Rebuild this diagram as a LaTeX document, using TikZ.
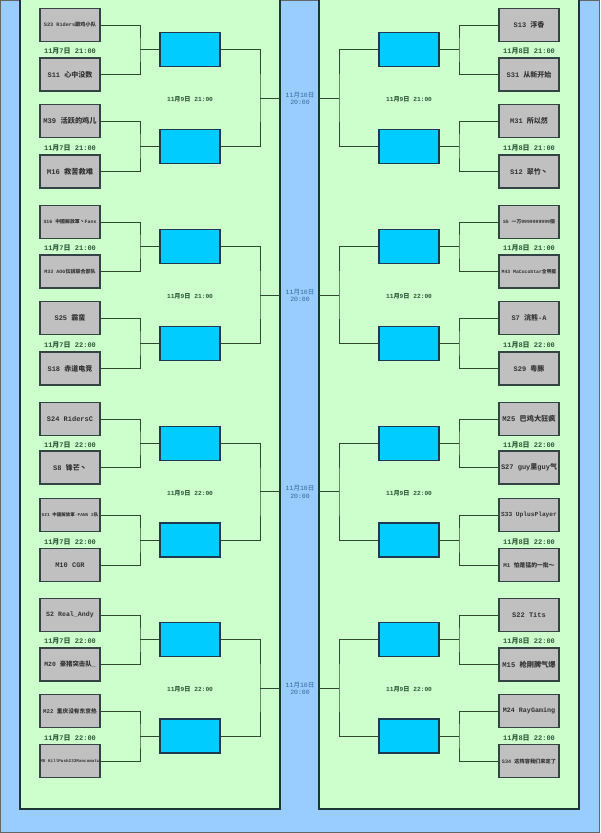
\documentclass[tikz,border=0pt]{standalone}
\usepackage{fontspec}
\setmainfont{Liberation Mono}
\newfontfamily\cjk{Noto Sans CJK SC}
\newcommand\zh[1]{{\cjk #1}}
\newcommand\fs[1]{\fontsize{#1}{#1}\selectfont}
\definecolor{bgblue}{HTML}{99CCFF}
\definecolor{panelgreen}{HTML}{CCFFCC}
\definecolor{panelline}{HTML}{1F3535}
\definecolor{teamgray}{HTML}{C0C0C0}
\definecolor{boxline}{HTML}{344444}
\definecolor{cyanbox}{HTML}{00CCFF}
\definecolor{winline}{HTML}{1F3A50}
\definecolor{wirecol}{HTML}{2E4A2E}
\definecolor{dategreen}{HTML}{2F5A3A}
\definecolor{textdark}{HTML}{333333}
\definecolor{finalblue}{HTML}{336699}
\tikzset{
  team/.style={draw=boxline, fill=teamgray, line width=1.2pt, minimum width=60pt,
    minimum height=33pt, inner sep=0pt, text=textdark, font=\bfseries\fs{7}},
  winbox/.style={draw=winline, fill=cyanbox, line width=1.2pt, minimum width=60pt,
    minimum height=34pt, inner sep=0pt},
  datelbl/.style={inner sep=0pt, text=dategreen, font=\bfseries\fs{7}},
  midlbl/.style={inner sep=0pt, text=dategreen, font=\bfseries\fs{6.2}},
  finallbl/.style={inner sep=0pt, text=finalblue, font=\fs{6.5}, align=center},
  wire/.style={draw=wirecol, line width=1pt},
  panel/.style={draw=panelline, fill=panelgreen, line width=1.5pt}
}
% left pair: id, yA, yB, nameA, nameB, date
\newcommand\lpair[6]{%
  \node[team] (LA#1) at (70,#2) {#4};
  \node[team] (LB#1) at (70,#3) {#5};
  \node[datelbl] (LD#1) at (70,{(#2+#3)/2+1.5}) {#6};
  \node[winbox] (LW#1) at (190,{(#2+#3)/2}) {};
  \coordinate (LJ#1) at (140,{(#2+#3)/2});
  \draw[wire] (LA#1.east) -| (LJ#1) |- (LB#1.east);
  \draw[wire] (LJ#1) -- (LW#1.west);
}
\newcommand\rpair[6]{%
  \node[team] (RA#1) at (529,#2) {#4};
  \node[team] (RB#1) at (529,#3) {#5};
  \node[datelbl] (RD#1) at (529,{(#2+#3)/2+1.5}) {#6};
  \node[winbox] (RW#1) at (409,{(#2+#3)/2}) {};
  \coordinate (RJ#1) at (459,{(#2+#3)/2});
  \draw[wire] (RA#1.west) -| (RJ#1) |- (RB#1.west);
  \draw[wire] (RJ#1) -- (RW#1.east);
}
% quad: id, pair top, pair bottom, y, label
\newcommand\lquad[5]{%
  \coordinate (LK#1) at (260,#4);
  \coordinate (LE#1) at (280,#4);
  \node[midlbl] (LM#1) at (190,#4+1.5) {#5};
  \draw[wire] (LW#2.east) -| (LK#1) |- (LW#3.east);
  \draw[wire] (LK#1) -- (LE#1);
}
\newcommand\rquad[5]{%
  \coordinate (RK#1) at (339,#4);
  \coordinate (RE#1) at (319,#4);
  \node[midlbl] (RM#1) at (409,#4+1.5) {#5};
  \draw[wire] (RW#2.west) -| (RK#1) |- (RW#3.west);
  \draw[wire] (RK#1) -- (RE#1);
  \node[finallbl] (F#1) at (300,#4+0.5) {11\zh{月}10\zh{日}\\[1pt]20:00};
}
\begin{document}
\begin{tikzpicture}[x=1pt,y=-1pt]
\useasboundingbox (0,0) rectangle (600,833);
\fill[bgblue] (0,0) rectangle (600,833);
\draw[draw=gray!80!black, line width=1pt] (0.5,0.5) rectangle (599.5,832.5);
\draw[panel] (20,-3) rectangle (280,809);
\draw[panel] (319,-3) rectangle (579,809);

% ---------- left half ----------
\lpair{1}{25}{74.5}{\fs{5.2}S23 Riders\zh{跟鸡小队}}{S11 \zh{心中没数}}{11\zh{月}7\zh{日} 21:00}
\lpair{2}{121}{171.5}{\fs{7.2}M39 \zh{活跃的鸡儿}}{\fs{7.2}M16 \zh{救苦救难}}{11\zh{月}7\zh{日} 21:00}
\lpair{3}{222}{271.5}{\fs{4.9}S16 \zh{中國解放軍丶}Fans}{\fs{5}M33 AOG\zh{伝説联合部队}}{11\zh{月}7\zh{日} 21:00}
\lpair{4}{318}{368.5}{S25 \zh{霸蛮}}{S18 \zh{赤道电竞}}{11\zh{月}7\zh{日} 22:00}
\lpair{5}{419}{467.5}{S24 RidersC}{S8 \zh{锋芒丶}}{11\zh{月}7\zh{日} 22:00}
\lpair{6}{515}{565}{\fs{4.5}S21 \zh{中國解放軍}·FANS 2\zh{队}}{M10 CGR}{11\zh{月}7\zh{日} 22:00}
\lpair{7}{615}{664.5}{\fs{6.6}S2 Real\_Andy}{\fs{6.4}M20 \zh{豪猪突击队}\_}{11\zh{月}7\zh{日} 22:00}
\lpair{8}{711}{761}{\fs{5.7}M22 \zh{重庆没有东京热}}{\fs{4.3}M8 KillPush233Mancumatu}{11\zh{月}7\zh{日} 22:00}
\lquad{1}{1}{2}{98}{11\zh{月}9\zh{日} 21:00}
\lquad{2}{3}{4}{295}{11\zh{月}9\zh{日} 21:00}
\lquad{3}{5}{6}{491.5}{11\zh{月}9\zh{日} 22:00}
\lquad{4}{7}{8}{688}{11\zh{月}9\zh{日} 22:00}

% ---------- right half ----------
\rpair{1}{25}{74.5}{S13 \zh{浮香}}{S31 \zh{从新开始}}{11\zh{月}8\zh{日} 21:00}
\rpair{2}{121}{171.5}{M31 \zh{所以然}}{S12 \zh{翠竹丶}}{11\zh{月}8\zh{日} 21:00}
\rpair{3}{222}{271.5}{\fs{4.8}S5 \zh{一万}9999999999\zh{個}}{\fs{4.8}M43 MaCocoStar\zh{全明星}}{11\zh{月}8\zh{日} 21:00}
\rpair{4}{318}{368.5}{S7 \zh{浣熊}-A}{S29 \zh{粤豚}}{11\zh{月}8\zh{日} 22:00}
\rpair{5}{419}{467.5}{\fs{7.2}M25 \zh{巴鸡大狂疯}}{S27 guy\zh{里}guy\zh{气}}{11\zh{月}8\zh{日} 22:00}
\rpair{6}{515}{565}{\fs{6.2}S33 UplusPlayer}{\fs{5.8}M1 \zh{怕是猛的一批～}}{11\zh{月}8\zh{日} 22:00}
\rpair{7}{615}{664.5}{S22 Tits}{\fs{7.2}M15 \zh{枪刚脾气爆}}{11\zh{月}8\zh{日} 22:00}
\rpair{8}{711}{761}{\fs{6.7}M24 RayGaming}{\fs{5.2}S34 \zh{这阵容我们来定了}}{11\zh{月}8\zh{日} 22:00}
\rquad{1}{1}{2}{98}{11\zh{月}9\zh{日} 21:00}
\rquad{2}{3}{4}{295}{11\zh{月}9\zh{日} 22:00}
\rquad{3}{5}{6}{491.5}{11\zh{月}9\zh{日} 22:00}
\rquad{4}{7}{8}{688}{11\zh{月}9\zh{日} 22:00}
\end{tikzpicture}
\end{document}
